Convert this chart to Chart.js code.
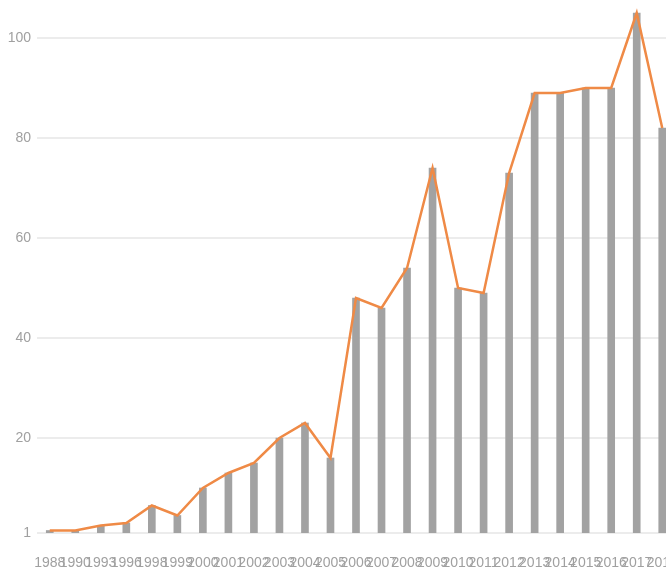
<!DOCTYPE html>
<html>
<head>
<meta charset="utf-8">
<script src="https://cdn.jsdelivr.net/npm/chart.js@4/dist/chart.umd.min.js"></script>
<style>
  html, body { margin: 0; padding: 0; background: #fff; overflow: hidden; }
  #wrap { width: 666px; height: 581px; overflow: hidden; }
</style>
</head>
<body>
<div id="wrap"><canvas id="chart" width="675" height="581"></canvas></div>
<script>
// values
const years = ["1988", "1990", "1993", "1996", "1998", "1999", "2000", "2001", "2002",
  "2003", "2004", "2005", "2006", "2007", "2008", "2009", "2010", "2011", "2012",
  "2013", "2014", "2015", "2016", "2017", "2018"];
const counts = [1.5, 1.5, 2.5, 3, 6.5, 4.5, 10, 13, 15, 20, 23, 16, 48, 46, 54, 74, 50, 49, 73,
  89, 89, 90, 90, 105, 82];
const yTicks = [1, 20, 40, 60, 80, 100];

const labelFont = { family: "'Liberation Sans Narrow', 'Liberation Sans', sans-serif", size: 14 };

new Chart(document.getElementById("chart").getContext("2d"), {
  type: "bar",
  data: {
    labels: years,
    datasets: [
      {
        type: "line",
        data: counts,
        borderColor: "#ef8a46",
        borderWidth: 2.5,
        pointRadius: 0,
        tension: 0,
        order: 0,
      },
      {
        type: "bar",
        data: counts,
        backgroundColor: "#a2a2a2",
        barThickness: 7,
        order: 1,
      },
    ],
  },
  options: {
    responsive: false,
    animation: false,
    layout: { padding: { top: 3, left: 0, right: 0, bottom: 0 } },
    plugins: { legend: { display: false }, tooltip: { enabled: false } },
    scales: {
      x: {
        offset: true,
        grid: { display: false },
        border: { display: false },
        ticks: {
          autoSkip: false,
          maxRotation: 0,
          minRotation: 0,
          padding: 14,
          color: "#a0a0a0",
          font: labelFont,
        },
        afterFit: (scale) => {
          scale.height = 48;
          scale.paddingLeft = 0;
          scale.paddingRight = 0;
        },
      },
      y: {
        min: 1,
        max: 107,
        afterBuildTicks: (scale) => {
          scale.ticks = yTicks.map((v) => ({ value: v }));
        },
        grid: { color: "#ececec", lineWidth: 2, drawTicks: false },
        border: { display: false },
        ticks: {
          padding: 6,
          color: "#a0a0a0",
          font: labelFont,
        },
        afterFit: (scale) => {
          scale.width = 37;
          scale.paddingTop = 0;
          scale.paddingBottom = 0;
        },
      },
    },
  },
});
</script>
</body>
</html>
